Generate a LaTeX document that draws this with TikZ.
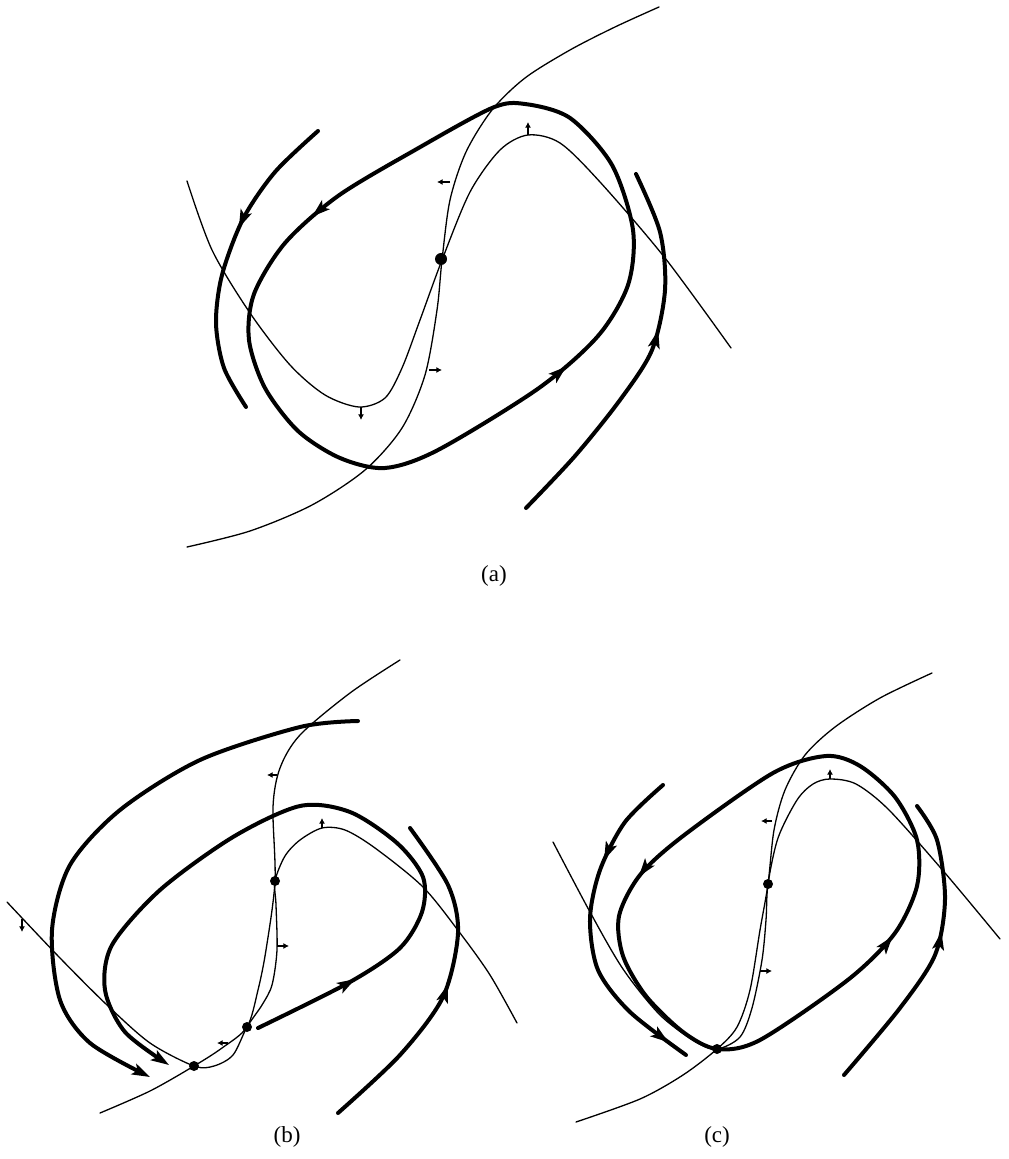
\documentclass[tikz,border=0pt]{standalone}
\usepackage{fontspec}
\setmainfont{Liberation Serif}
\usetikzlibrary{arrows.meta,decorations.markings}
\begin{document}
\begin{tikzpicture}[x=0.5pt,y=-0.5pt,
  nullc/.style={line width=0.65pt, line cap=round, line join=round},
  orbit/.style={line width=2pt, line cap=round, line join=round},
  flowhead/.tip={Stealth[length=9pt,width=5.8pt,inset=2pt]},
  flowat/.style={postaction={decorate},decoration={markings,
     mark=at position #1 with {\arrow{flowhead}}}},
  flowtwo/.style 2 args={postaction={decorate},decoration={markings,
     mark=at position #1 with {\arrow{flowhead}},
     mark=at position #2 with {\arrow{flowhead}}}},
  tick/.style={line width=0.6pt, -{Latex[length=2.8pt,width=3pt]}},
  fixpt/.style={circle, fill=black, inner sep=0pt, minimum size=#1},
  fixpt/.default=5pt,
  lab/.style={font=\fontsize{11.5}{13}\selectfont, inner sep=0pt}
]
\useasboundingbox (0,0) rectangle (1008,1159);

%%%%%%%%%%%%%%%%%%%%%%%% (a)
% nullcline A
\draw[nullc] plot[smooth] coordinates {(187,547) (250,531) (312,505) (365,470) (402,428) (425,375) (437,310) (442,260) (450,200) (466,152) (492,110) (525,78) (570,50) (615,27) (659,7)};
% nullcline B
\draw[nullc] plot[smooth] coordinates {(187,181) (212,250) (250,313) (290,365) (325,395) (359,407) (385,398) (402,368) (420,320) (442,260) (470,192) (500,150) (528,135) (560,143) (600,182) (665,258) (731,348)};
% limit cycle
\draw[orbit, flowtwo={0.185}{0.673}] plot[smooth cycle] coordinates {(525,104) (492,108) (415,150) (338,196) (285,243) (254,294) (249,340) (265,388) (298,431) (340,458) (385,468) (438,450) (539,388) (598,336) (628,285) (633,230) (612,165) (570,118)};
% outer arcs
\draw[orbit, flowat=0.40] plot[smooth] coordinates {(318,131) (275,172) (243,219) (222,275) (216,323) (224,368) (246,407)};
\draw[orbit, flowat=0.58] plot[smooth] coordinates {(526,508) (575,456) (620,400) (652,350) (665,290) (660,232) (636,174)};
% ticks
\draw[tick] (361,407) -- (361,420);
\draw[tick] (528,135) -- (528,122);
\draw[tick] (450,182) -- (437,182);
\draw[tick] (429,370) -- (442,370);
\node[fixpt=6pt] (pa) at (441,259) {};
\node[lab] (la) at (494,576) {(a)};

%%%%%%%%%%%%%%%%%%%%%%%% (b)
% nullcline A
\draw[nullc] plot[smooth] coordinates {(100,1113) (150,1091) (194,1066) (222,1048) (247,1027) (258,990) (266,950) (275,881) (273,807) (280,768) (300,735) (350,693) (400,660)};
% nullcline B
\draw[nullc] plot[smooth] coordinates {(7,902) (60,958) (107,1005) (150,1043) (194,1066) (214,1066) (233,1055) (247,1027) (262,1005) (272,985) (277,950) (276,905) (275,881) (285,856) (300,840) (322,828) (345,830) (375,848) (423,887) (460,933) (490,975) (517,1023)};
% outer orbit
\draw[orbit, -{flowhead}] plot[smooth] coordinates {(358,721) (300,727) (200,760) (120,810) (70,865) (52,930) (60,1000) (90,1043) (150,1077)};
% inner orbit
\draw[orbit, flowat=0.14, -{flowhead}] plot[smooth] coordinates {(258,1028) (350,982) (400,948) (422,912) (423,877) (397,843) (350,812) (300,806) (233,837) (160,890) (112,945) (105,990) (125,1032) (169,1065)};
% right arc
\draw[orbit, flowat=0.50] plot[smooth] coordinates {(338,1113) (400,1055) (443,997) (458,933) (448,885) (410,828)};
% ticks
\draw[tick] (22,919) -- (22,932);
\draw[tick] (277,775) -- (267,775);
\draw[tick] (322,828) -- (322,818);
\draw[tick] (277,946) -- (289,946);
\draw[tick] (228,1043) -- (217,1043);
\node[fixpt] (pb1) at (194,1066) {};
\node[fixpt] (pb2) at (247,1027) {};
\node[fixpt] (pb3) at (275,881) {};
\node[lab] (lb) at (287,1137) {(b)};

%%%%%%%%%%%%%%%%%%%%%%%% (c)
% nullcline A
\draw[nullc] plot[smooth] coordinates {(576,1122) (640,1099) (683,1075) (717,1049) (737,1027) (750,990) (760,930) (768,884) (774,830) (785,790) (805,755) (835,727) (880,698) (932,673)};
% nullcline B
\draw[nullc] plot[smooth] coordinates {(553,842) (590,912) (623,969) (660,1015) (696,1042) (717,1049) (740,1037) (752,1008) (762,960) (766,920) (768,884) (778,838) (797,800) (813,784) (830,779) (856,784) (889,810) (945,873) (1000,939)};
% homoclinic loop
\draw[orbit, flowtwo={0.19}{0.676}] plot[smooth cycle] coordinates {(826,756) (773,773) (683,836) (640,875) (619,916) (623,956) (646,996) (683,1032) (717,1049) (760,1040) (849,979) (895,933) (917,886) (917,840) (895,797) (860,766)};
% outer arcs
\draw[orbit, flowtwo={0.29}{0.935}] plot[smooth] coordinates {(663,785) (625,822) (600,870) (590,919) (598,970) (630,1012) (686,1055)};
\draw[orbit, flowat=0.57] plot[smooth] coordinates {(844,1075) (900,1008) (935,955) (945,899) (937,840) (917,806)};
% ticks
\draw[tick] (772,821) -- (761,821);
\draw[tick] (830,779) -- (830,769);
\draw[tick] (760,971) -- (772,971);
\node[fixpt] (pc1) at (717,1049) {};
\node[fixpt] (pc2) at (768,884) {};
\node[lab] (lc) at (717,1137) {(c)};
\end{tikzpicture}
\end{document}
